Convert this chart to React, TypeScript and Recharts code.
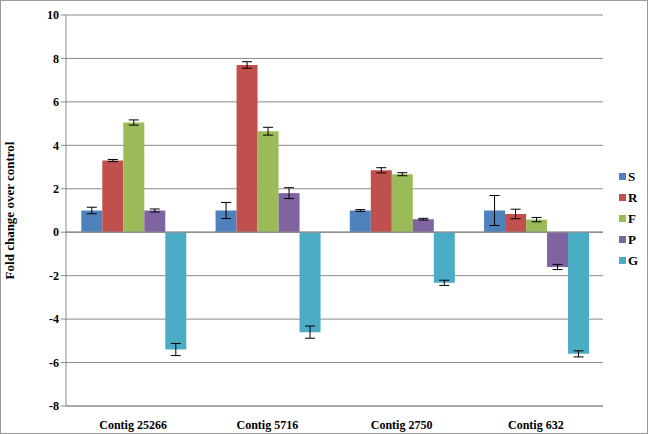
import React from "react";
import {
  BarChart,
  Bar,
  XAxis,
  YAxis,
  CartesianGrid,
  ReferenceLine,
  ErrorBar,
  Legend,
} from "recharts";

const categories = ["Contig 25266", "Contig 5716", "Contig 2750", "Contig 632"];

const sValues = [1.0, 1.0, 1.0, 1.0];
const sErrors = [0.15, 0.37, 0.04, 0.69];
const rValues = [3.3, 7.7, 2.85, 0.84];
const rErrors = [0.05, 0.15, 0.12, 0.22];
const fValues = [5.05, 4.65, 2.67, 0.58];
const fErrors = [0.12, 0.18, 0.07, 0.1];
const pValues = [1.0, 1.8, 0.6, -1.6];
const pErrors = [0.07, 0.25, 0.04, 0.12];
const gValues = [-5.4, -4.6, -2.33, -5.6];
const gErrors = [0.28, 0.28, 0.12, 0.14];

const yTicks = [-8, -6, -4, -2, 0, 2, 4, 6, 8, 10];

const seriesDefs = [
  { key: "S", err: "sErr", color: "#4F81BD" },
  { key: "R", err: "rErr", color: "#C0504D" },
  { key: "F", err: "fErr", color: "#9BBB59" },
  { key: "P", err: "pErr", color: "#8064A2" },
  { key: "G", err: "gErr", color: "#4BACC6" },
];
const seriesOrder = seriesDefs.map((s) => s.key);

const data = categories.map((name, i) => ({
  name,
  S: sValues[i],
  sErr: sErrors[i],
  R: rValues[i],
  rErr: rErrors[i],
  F: fValues[i],
  fErr: fErrors[i],
  P: pValues[i],
  pErr: pErrors[i],
  G: gValues[i],
  gErr: gErrors[i],
}));

const FONT = "'Liberation Serif', 'Times New Roman', serif";
const GRID = "#8a8a8a";

// simple stacked legend, square swatch + bold letter, kept in series order
function LegendBox({ payload }: any) {
  const items = [...(payload || [])].sort(
    (a: any, b: any) => seriesOrder.indexOf(a.value) - seriesOrder.indexOf(b.value)
  );
  return (
    <div style={{ fontFamily: FONT, fontWeight: "bold", fontSize: 13 }}>
      {items.map((p: any) => (
        <div key={p.value} style={{ display: "flex", alignItems: "center", height: 21 }}>
          <span
            style={{
              display: "inline-block",
              width: 7,
              height: 7,
              background: p.color,
              marginRight: 2,
            }}
          />
          <span>{p.value}</span>
        </div>
      ))}
    </div>
  );
}

export default function App() {
  return (
    <div
      style={{
        position: "absolute",
        left: 0,
        top: 0,
        width: 648,
        height: 434,
        boxSizing: "border-box",
        border: "1px solid #9a9a9a",
        background: "#fff",
      }}
    >
      <BarChart
        width={646}
        height={432}
        data={data}
        margin={{ top: 14, right: 44, left: 10, bottom: 0 }}
        barCategoryGap="11.4%"
        barGap={0}
      >
        <CartesianGrid vertical={false} stroke={GRID} strokeWidth={1} />
        <XAxis
          dataKey="name"
          height={27}
          axisLine={{ stroke: GRID }}
          tickLine={false}
          tick={{ fill: "#000", fontSize: 12, fontWeight: "bold", fontFamily: FONT }}
          tickMargin={8}
        />
        <YAxis
          width={55}
          domain={[-8, 10]}
          ticks={yTicks}
          interval={0}
          axisLine={{ stroke: GRID }}
          tickLine={{ stroke: GRID }}
          tickSize={5}
          tick={{ fill: "#000", fontSize: 12, fontWeight: "bold", fontFamily: FONT }}
          label={{
            value: "Fold change over control",
            angle: -90,
            position: "insideLeft",
            offset: -2,
            style: {
              textAnchor: "middle",
              fill: "#000",
              fontSize: 13,
              fontWeight: "bold",
              fontFamily: FONT,
            },
          }}
        />
        <ReferenceLine y={0} stroke={GRID} strokeWidth={1.2} />
        <Legend
          layout="vertical"
          align="center"
          verticalAlign="middle"
          itemSorter={null}
          content={<LegendBox />}
          wrapperStyle={{ left: 618, top: 165, width: 26 }}
        />
        {seriesDefs.map((s) => (
          <Bar key={s.key} dataKey={s.key} fill={s.color} isAnimationActive={false}>
            <ErrorBar dataKey={s.err} width={5} stroke="#000" strokeWidth={1} />
          </Bar>
        ))}
      </BarChart>
    </div>
  );
}
